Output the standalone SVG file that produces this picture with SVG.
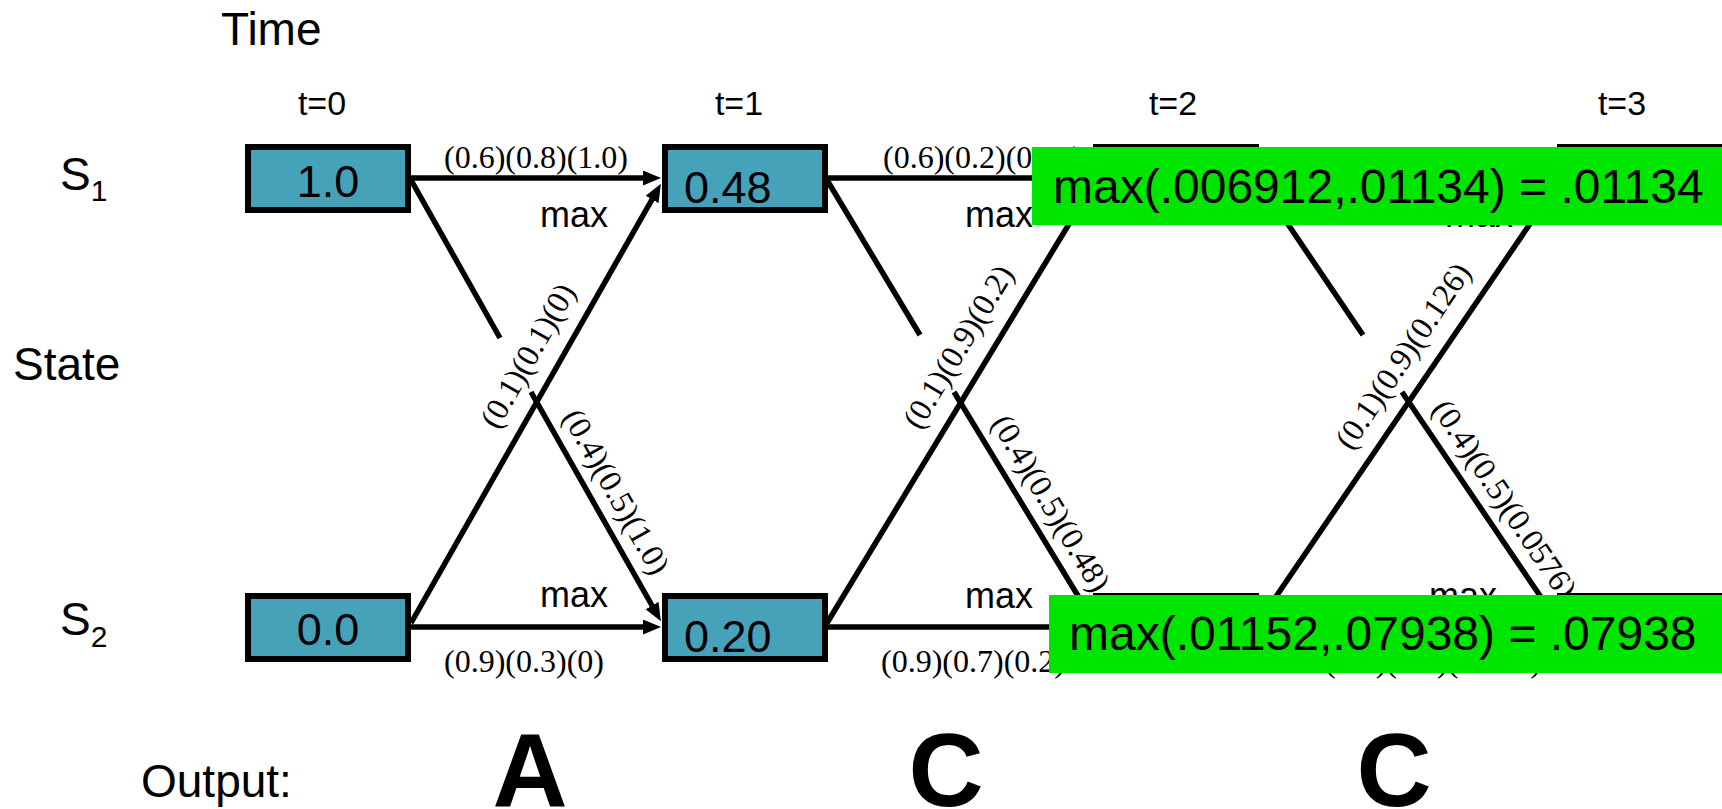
<svg xmlns="http://www.w3.org/2000/svg" width="1722" height="809" viewBox="0 0 1722 809">
<defs>
<style>
.lbl{font-family:"Liberation Sans",Arial,sans-serif;fill:#000}
.big{font-size:46px}
.tm{font-size:34px}
.mx{font-size:36px}
.ser{font-family:"Liberation Serif","Times New Roman",serif;font-size:32px;fill:#000}
.box{fill:#46A2B8;stroke:#000;stroke-width:6}
.val{font-family:"Liberation Sans",Arial,sans-serif;font-size:45px;fill:#000}
.edge{fill:none;stroke:#000;stroke-width:5.5}
.green{fill:#00E500}
.gtxt{font-family:"Liberation Sans",Arial,sans-serif;font-size:48px;fill:#000}
.out{font-family:"Liberation Sans",Arial,sans-serif;font-size:104px;font-weight:bold;fill:#000}
</style>
<marker id="arr" markerUnits="userSpaceOnUse" markerWidth="20" markerHeight="16" refX="4" refY="7.5" orient="auto">
<path d="M0,0 L18,7.5 L0,15 z" fill="#000"/>
</marker>
</defs>
<rect width="1722" height="809" fill="#fff"/>

<g id="axis-labels">
<text class="lbl big" x="221" y="45">Time</text>
<text class="lbl big" x="13" y="380">State</text>
<text class="lbl big" x="60" y="190">S<tspan font-size="30" y="201">1</tspan></text>
<text class="lbl big" x="60" y="635">S<tspan font-size="30" y="647">2</tspan></text>
<text class="lbl tm" x="322" y="115" text-anchor="middle">t=0</text>
<text class="lbl tm" x="739" y="115" text-anchor="middle">t=1</text>
<text class="lbl tm" x="1173" y="115" text-anchor="middle">t=2</text>
<text class="lbl tm" x="1622" y="115" text-anchor="middle">t=3</text>
<text class="lbl big" x="141" y="797">Output:</text>
<text class="out" x="530" y="806" text-anchor="middle">A</text>
<text class="out" x="946" y="806" text-anchor="middle">C</text>
<text class="out" x="1394" y="806" text-anchor="middle">C</text>
</g>

<g id="connectors">
<!-- t0 -> t1 -->
<path class="edge" d="M411,178 L647,178" marker-end="url(#arr)"/>
<path class="edge" d="M411,627 L647,627" marker-end="url(#arr)"/>
<path class="edge" d="M411,623 L654,196" marker-end="url(#arr)"/>
<path class="edge" d="M411,180 L500,338 M531,392 L654,609" marker-end="url(#arr)"/>
<!-- t1 -> t2 -->
<path class="edge" d="M827,178 L1079,178" marker-end="url(#arr)"/>
<path class="edge" d="M827,627 L1079,627" marker-end="url(#arr)"/>
<path class="edge" d="M827,623 L1086,196" marker-end="url(#arr)"/>
<path class="edge" d="M827,180 L920,335 M954,392 L1086,609" marker-end="url(#arr)"/>
<!-- t2 -> t3 -->
<path class="edge" d="M1258,178 L1543,178" marker-end="url(#arr)"/>
<path class="edge" d="M1258,627 L1543,627" marker-end="url(#arr)"/>
<path class="edge" d="M1258,623 L1549,196" marker-end="url(#arr)"/>
<path class="edge" d="M1258,180 L1363,335 M1402,392 L1549,609" marker-end="url(#arr)"/>
</g>

<g id="edge-labels">
<text class="ser" x="444" y="168">(0.6)(0.8)(1.0)</text>
<text class="ser" x="444" y="672">(0.9)(0.3)(0)</text>
<text class="ser" x="883" y="168">(0.6)(0.2)(0.48)</text>
<text class="ser" x="881" y="672">(0.9)(0.7)(0.2)</text>
<text class="ser" x="1325" y="672">(0.9)(0.7)(0.126)</text>
<text class="lbl mx" x="540" y="227">max</text>
<text class="lbl mx" x="540" y="607">max</text>
<text class="lbl mx" x="965" y="227">max</text>
<text class="lbl mx" x="965" y="608">max</text>
<text class="lbl mx" x="1445" y="227">max</text>
<text class="lbl mx" x="1429" y="608">max</text>
<g transform="translate(553.7,370.2) rotate(-60.56)"><text class="ser" x="0" y="-19" text-anchor="middle">(0.1)(0.1)(0)</text></g>
<g transform="translate(594,504.3) rotate(60.56)"><text class="ser" x="0" y="-15" text-anchor="middle">(0.4)(0.5)(1.0)</text></g>
<g transform="translate(983.6,362) rotate(-59.02)"><text class="ser" x="0" y="-19" text-anchor="middle">(0.1)(0.9)(0.2)</text></g>
<g transform="translate(1029,516.4) rotate(59.02)"><text class="ser" x="0" y="-15" text-anchor="middle">(0.4)(0.5)(0.48)</text></g>
<g transform="translate(1427.6,372.4) rotate(-56.07)"><text class="ser" x="0" y="-19" text-anchor="middle">(0.1)(0.9)(0.126)</text></g>
<g transform="translate(1483.4,513.5) rotate(56.07)"><text class="ser" x="0" y="-15" text-anchor="middle">(0.4)(0.5)(0.0576)</text></g>
</g>

<g id="node-s1-t0"><rect class="box" x="248" y="147" width="160" height="63"/><text class="val" x="328" y="197" text-anchor="middle">1.0</text></g>
<g id="node-s2-t0"><rect class="box" x="248" y="596" width="160" height="63"/><text class="val" x="328" y="645" text-anchor="middle">0.0</text></g>
<g id="node-s1-t1"><rect class="box" x="665" y="147" width="160" height="63"/><text class="val" x="684" y="203">0.48</text></g>
<g id="node-s2-t1"><rect class="box" x="665" y="596" width="160" height="63"/><text class="val" x="684" y="652">0.20</text></g>
<g id="node-s1-t2"><rect class="box" x="1096" y="147" width="160" height="63"/></g>
<g id="node-s2-t2"><rect class="box" x="1096" y="596" width="160" height="63"/></g>
<g id="node-s1-t3"><rect class="box" x="1560" y="147" width="160" height="63"/></g>
<g id="node-s2-t3"><rect class="box" x="1560" y="596" width="160" height="63"/></g>

<g id="result-s1"><rect class="green" x="1032" y="147" width="690" height="78"/><text class="gtxt" x="1053" y="203">max(.006912,.01134) = .01134</text></g>
<g id="result-s2"><rect class="green" x="1049" y="595" width="673" height="78"/><text class="gtxt" x="1069" y="650">max(.01152,.07938) = .07938</text></g>
</svg>
